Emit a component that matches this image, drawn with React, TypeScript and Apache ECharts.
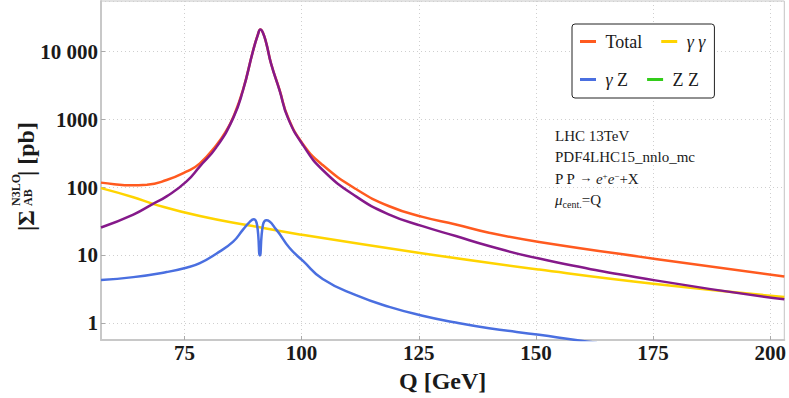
import React, { useEffect, useRef } from "react";
import * as echarts from "echarts";

// ---- data ----
const Q_TOTAL = [57.2, 60, 63.4, 67, 71.2, 75.4, 78.3, 81.8, 84, 85.4, 87.5, 89.6, 90.7, 91.2, 91.75, 92.5, 93.5, 95.3, 97.1, 100.3, 104.5, 111.6, 118.7, 125.8, 132.9, 140, 150.7, 175.5, 203];
const TOTAL = [118, 112, 108, 110, 129, 171, 227, 420, 700, 1080, 2730, 10040, 18040, 21240, 19040, 13030, 6630, 2730, 1080, 435, 214, 95, 53, 37, 28.6, 21.6, 15.8, 8.9, 4.9];

const Q_GG = [57.2, 64.1, 68.3, 78.3, 88.9, 99.6, 125.6, 150.7, 175.5, 203];
const GG = [98, 72, 57.5, 38, 27.6, 20.4, 10.8, 6.2, 3.8, 2.45];

const Q_GZ = [57.2, 64.1, 71.2, 75.4, 78.3, 81.8, 85.4, 87.5, 88.9, 89.8, 90.5, 91.1, 91.75, 92.5, 94.6, 97.4, 100.3, 104.5, 111.6, 118.7, 125.8, 132.9, 140, 150.7, 158.5, 163];
const GZ = [4.36, 4.8, 5.7, 6.6, 7.7, 10.6, 16, 24, 31, 34, 28, 10, 28, 33, 24, 13, 8.3, 4.5, 2.6, 1.75, 1.3, 1.03, 0.85, 0.68, 0.57, 0.52];

const Q_ZZ: number[] = [];
const ZZ: number[] = [];

const Q_PEAK = [57.2, 64.1, 68.3, 71.2, 75.4, 78.3, 81.8, 85.4, 87.5, 89.6, 90.7, 91.2, 91.75, 92.5, 93.5, 95.3, 97.1, 100.3, 104.5, 111.6, 118.7, 125.8, 132.9, 140, 150.7, 175.5, 203];
const PEAK = [25.8, 40, 57.5, 74, 122, 205, 390, 1050, 2700, 10000, 18000, 21200, 19000, 13000, 6600, 2700, 1050, 420, 181, 74, 40, 27, 19.3, 13.8, 9.0, 4.3, 2.26];

const LEGEND_NAMES = ["Total", "γ γ", "γ Z", "Z Z"];
const X_TICK_STEP = 25;
const NOTES = ["LHC 13TeV", "PDF4LHC15_nnlo_mc"];

const SERIF = "'Liberation Serif', 'Times New Roman', serif";
const INK = "#1a1a1a";

const pairs = (xs: number[], ys: number[]) => xs.map((x, i) => [x, ys[i]]);

export default function App() {
  const ref = useRef<HTMLDivElement>(null);

  useEffect(() => {
    if (!ref.current) return;
    const chart = echarts.init(ref.current, null, { renderer: "svg" });

    const lineSeries = (name: string, xs: number[], ys: number[], color: string) => ({
      name,
      type: "line",
      data: pairs(xs, ys),
      showSymbol: false,
      symbol: "none",
      smooth: 0.5,
      lineStyle: { color, width: 2.5 },
      itemStyle: { color },
      clip: true,
    });

    const legendText = (name: string) =>
      "{t|\u00a0}" +
      name
        .split(/(γ)/)
        .filter((s) => s.length > 0)
        .map((s) => (s === "γ" ? "{i|γ}" : "{t|" + s.replace(/ /g, "\u00a0") + "}"))
        .join("");

    const option: any = {
      animation: false,
      backgroundColor: "#fff",
      grid: {
        left: 101,
        right: 3,
        top: 1,
        bottom: 56,
        show: true,
        borderColor: "#c4c4c4",
        borderWidth: 1,
        backgroundColor: "transparent",
      },
      legend: {
        data: LEGEND_NAMES,
        left: 572,
        top: 24,
        width: 140,
        orient: "horizontal",
        icon: "rect",
        padding: [8, 9, 9, 8],
        itemWidth: 16,
        itemHeight: 3,
        itemGap: 19,
        backgroundColor: "#fff",
        borderColor: "#222",
        borderWidth: 1,
        borderRadius: 3,
        formatter: legendText,
        textStyle: {
          fontFamily: SERIF,
          fontSize: 18,
          color: INK,
          lineHeight: 19,
          rich: {
            t: { fontFamily: SERIF, fontSize: 18, lineHeight: 19, color: INK },
            i: { fontFamily: SERIF, fontSize: 18, lineHeight: 19, fontStyle: "italic", color: INK },
          },
        },
      },
      xAxis: {
        type: "value",
        min: 57.2,
        max: 203,
        minInterval: X_TICK_STEP,
        maxInterval: X_TICK_STEP,
        name: "Q [GeV]",
        nameLocation: "middle",
        nameGap: 29,
        nameTextStyle: { fontFamily: SERIF, fontSize: 24, fontWeight: "bold", color: INK },
        axisLine: { show: true, lineStyle: { color: "#c8c8c8", width: 2 } },
        axisTick: { show: true, inside: true, length: 4, lineStyle: { color: "#aaa" } },
        splitLine: { show: true, lineStyle: { color: "#cfcfcf", type: [1, 3], width: 1 } },
        axisLabel: {
          showMinLabel: false,
          showMaxLabel: false,
          margin: 2,
          fontFamily: SERIF,
          fontSize: 21,
          fontWeight: "bold",
          color: INK,
          formatter: (v: number) => (Math.abs(v % X_TICK_STEP) < 1e-6 ? String(v) : ""),
        },
      },
      yAxis: {
        type: "log",
        logBase: 10,
        min: 0.57,
        max: 55600,
        axisLine: { show: true, lineStyle: { color: "#c8c8c8", width: 2 } },
        axisTick: { show: true, inside: true, length: 4, lineStyle: { color: "#aaa" } },
        splitLine: { show: true, lineStyle: { color: "#cfcfcf", type: [1, 3], width: 1 } },
        axisLabel: {
          showMinLabel: false,
          showMaxLabel: false,
          margin: 3,
          fontFamily: SERIF,
          fontSize: 21,
          fontWeight: "bold",
          color: INK,
          formatter: (v: number) => {
            const e = Math.log10(v);
            if (Math.abs(e - Math.round(e)) > 1e-6) return "";
            const n = Math.round(v);
            return n >= 10000 ? n.toString().replace(/\B(?=(\d{3})+(?!\d))/g, " ") : String(n);
          },
        },
      },
      series: [
        lineSeries("Total", Q_TOTAL, TOTAL, "#ff5a1f"),
        lineSeries("γ γ", Q_GG, GG, "#ffd400"),
        lineSeries("γ Z", Q_GZ, GZ, "#4a6fe0"),
        lineSeries("Z Z", Q_ZZ, ZZ, "#33cc1a"),
        lineSeries("Z peak", Q_PEAK, PEAK, "#85198a"),
      ],
      graphic: [
        {
          type: "group",
          x: 0,
          y: 233,
          rotation: Math.PI / 2,
          silent: true,
          children: [
            { type: "text", x: 2, y: 25.5, style: { text: "|Σ", font: `bold 24px ${SERIF}`, fill: INK, align: "left", verticalAlign: "middle" } },
            { type: "text", x: 27, y: 16, style: { text: "N3LO", font: `bold 12px ${SERIF}`, fill: INK, align: "left", verticalAlign: "middle" } },
            { type: "text", x: 27, y: 27.5, style: { text: "AB", font: `bold 12px ${SERIF}`, fill: INK, align: "left", verticalAlign: "middle" } },
            { type: "text", x: 57, y: 25.5, style: { text: "| [pb]", font: `bold 24px ${SERIF}`, fill: INK, align: "left", verticalAlign: "middle" } },
          ],
        },
        ...NOTES.map((t, i) => ({
          type: "text",
          left: 555,
          top: 128 + i * 21.5,
          silent: true,
          style: { text: t, font: `15px ${SERIF}`, fill: INK },
        })),
        {
          type: "text",
          left: 555,
          top: 171,
          silent: true,
          style: {
            text: "{n|P P }{a|→}{n| }{e|e}{s|+}{e|e}{s|−}{n|+X}",
            rich: {
              n: { fontFamily: SERIF, fontSize: 15, lineHeight: 17, fill: INK, verticalAlign: "top" },
              a: { fontFamily: SERIF, fontSize: 13, lineHeight: 15, fill: INK, verticalAlign: "top" },
              e: { fontFamily: SERIF, fontSize: 15, lineHeight: 17, fontStyle: "italic", fill: INK, verticalAlign: "top" },
              s: { fontFamily: SERIF, fontSize: 9, lineHeight: 9, fill: INK, verticalAlign: "top" },
            },
          },
        },
        {
          type: "text",
          left: 555,
          top: 192,
          silent: true,
          style: {
            text: "{m|μ}{c|cent.}{n|=Q}",
            rich: {
              m: { fontFamily: SERIF, fontSize: 15, lineHeight: 17, fontStyle: "italic", fill: INK, verticalAlign: "top" },
              c: { fontFamily: SERIF, fontSize: 10, lineHeight: 10, fill: INK, verticalAlign: "bottom" },
              n: { fontFamily: SERIF, fontSize: 15, lineHeight: 17, fill: INK, verticalAlign: "top" },
            },
          },
        },
      ],
    };

    chart.setOption(option);
    return () => chart.dispose();
  }, []);

  return <div ref={ref} style={{ width: 789, height: 398, position: "absolute", left: 0, top: 0 }} />;
}
